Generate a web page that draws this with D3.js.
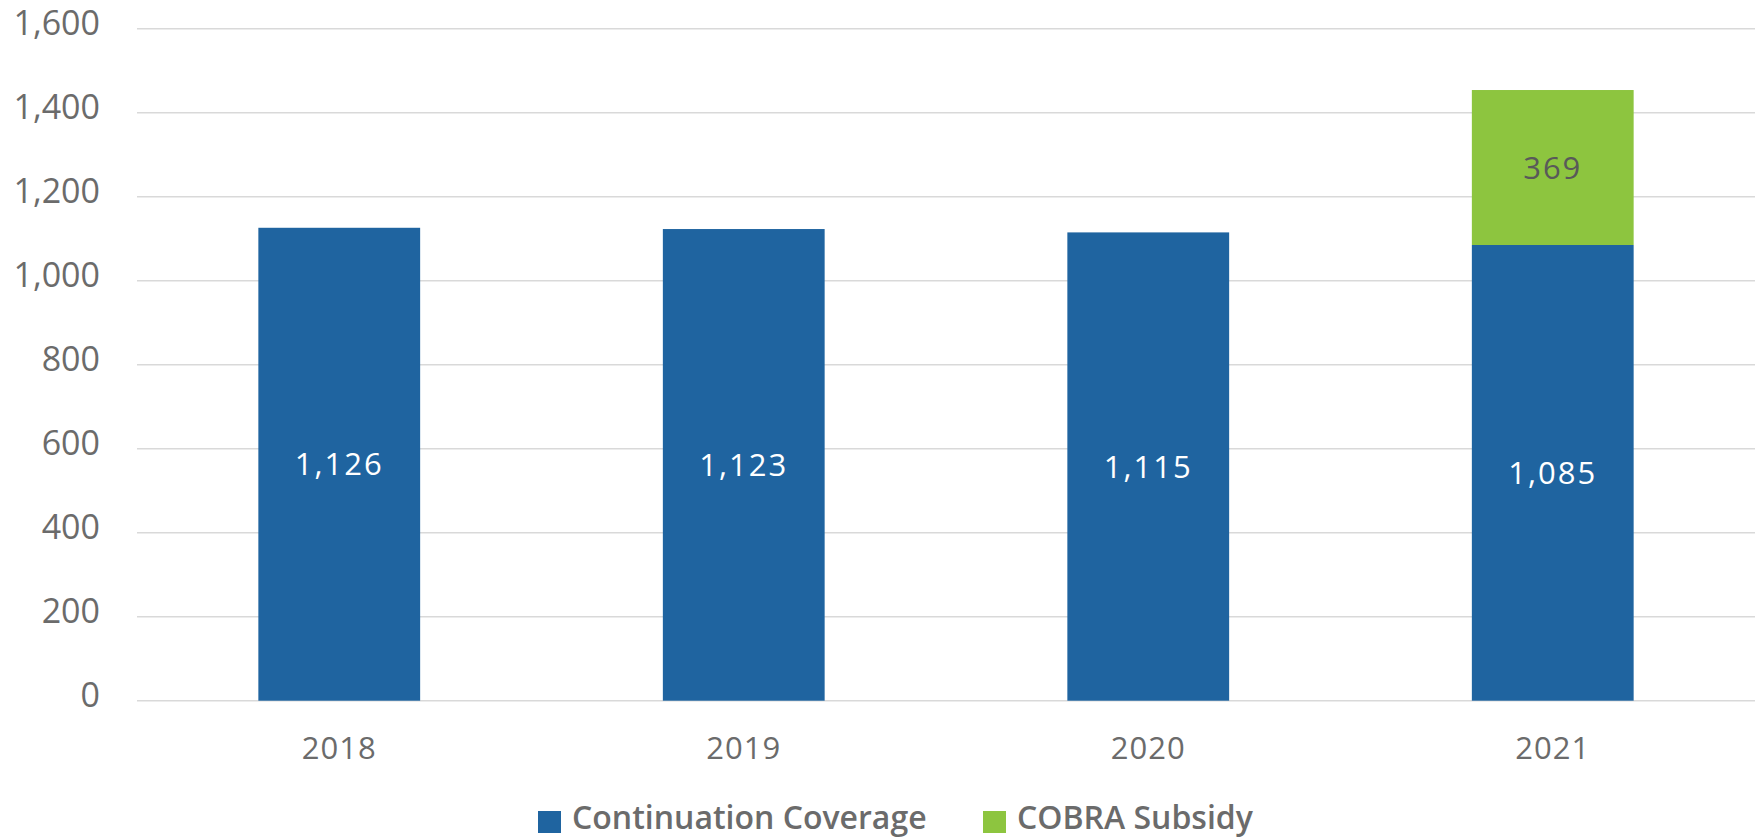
<!DOCTYPE html>
<html>
<head>
<meta charset="utf-8">
<script src="https://cdn.jsdelivr.net/npm/d3@7"></script>
<style>
  body { margin: 0; background: #fff; }
  text { font-family: "Open Sans", "Noto Sans", sans-serif; }
</style>
</head>
<body>
<div class="chart"></div>
<script>
var years = ["2018", "2019", "2020", "2021"],
    continuation = [1126, 1123, 1115, 1085],
    subsidy = [0, 0, 0, 369],
    yTicks = [0, 200, 400, 600, 800, 1000, 1200, 1400, 1600],
    seriesNames = ["Continuation Coverage", "COBRA Subsidy"],
    colors = ["#1f64a0", "#8dc53f"];

var width = 1760,
    height = 837,
    plotLeft = 137,
    plotRight = 1755,
    plotTop = 28.7,
    plotBottom = 700.7;

var svg = d3.select(".chart")
    .append("svg")
    .attr("width", width)
    .attr("height", height);

var x = d3.scaleBand()
    .domain(years)
    .range([plotLeft, plotRight])
    .paddingInner(0.6)
    .paddingOuter(0.3);

var y = d3.scaleLinear()
    .domain([0, 1600])
    .range([plotBottom, plotTop]);

// gridlines
svg.append("g")
    .selectAll("line")
    .data(yTicks)
    .enter()
    .append("line")
    .attr("x1", plotLeft)
    .attr("x2", plotRight)
    .attr("y1", function(d){ return y(d); })
    .attr("y2", function(d){ return y(d); })
    .attr("stroke", "#d9d9d9")
    .attr("stroke-width", "1.5px");

// y labels
var yAxis = d3.axisLeft(y)
    .tickValues(yTicks)
    .tickFormat(d3.format(","))
    .tickSize(0)
    .tickPadding(0);

svg.append("g")
    .attr("transform", "translate(100,0)")
    .call(yAxis)
    .call(function(g){ g.select(".domain").remove(); })
    .selectAll("text")
    .attr("dy", "0.32em")
    .attr("y", -5)
    .attr("fill", "#6b6b6b")
    .style("font-size", "34px")
    .style("font-weight", "500");

// x labels
var xAxis = d3.axisBottom(x).tickSize(0).tickPadding(0);

svg.append("g")
    .attr("transform", "translate(0," + 759 + ")")
    .call(xAxis)
    .call(function(g){ g.select(".domain").remove(); })
    .selectAll("text")
    .attr("dy", 0)
    .attr("fill", "#6b6b6b")
    .style("font-size", "31px")
    .style("letter-spacing", "1px");

// stacked bars
var rows = years.map(function(yr, i){
  return { year: yr, continuation: continuation[i], subsidy: subsidy[i] };
});
var stack = d3.stack().keys(["continuation", "subsidy"])(rows);

var layers = svg.append("g")
    .selectAll("g")
    .data(stack)
    .enter()
    .append("g")
    .attr("fill", function(d, i){ return colors[i]; });

layers.selectAll("rect")
    .data(function(d){ return d.filter(function(s){ return s[1] > s[0]; }); })
    .enter()
    .append("rect")
    .attr("x", function(d){ return x(d.data.year); })
    .attr("width", x.bandwidth())
    .attr("y", function(d){ return y(d[1]); })
    .attr("height", function(d){ return y(d[0]) - y(d[1]); });

// value labels
layers.each(function(layer, li){
  d3.select(this)
      .selectAll("text")
      .data(layer.filter(function(s){ return s[1] > s[0]; }))
      .enter()
      .append("text")
      .attr("x", function(d){ return x(d.data.year) + x.bandwidth() / 2; })
      .attr("y", function(d){ return (y(d[0]) + y(d[1])) / 2; })
      .attr("dy", "0.36em")
      .attr("text-anchor", "middle")
      .attr("fill", li == 0 ? "#ffffff" : "#595959")
      .style("font-size", "31px")
      .style("letter-spacing", "2px")
      .text(function(d){ return d3.format(",")(d[1] - d[0]); });
});

// legend
var legendX = [538, 983];
var legend = svg.append("g")
    .selectAll("g")
    .data(seriesNames)
    .enter()
    .append("g")
    .attr("transform", function(d, i){ return "translate(" + legendX[i] + ",811)"; });

legend.append("rect")
    .attr("width", 23)
    .attr("height", 22)
    .attr("fill", function(d, i){ return colors[i]; });

legend.append("text")
    .attr("x", 34)
    .attr("y", 18)
    .attr("fill", "#6b6b6b")
    .style("font-size", "32px")
    .style("font-weight", "600")
    .text(function(d){ return d; });
</script>
</body>
</html>
